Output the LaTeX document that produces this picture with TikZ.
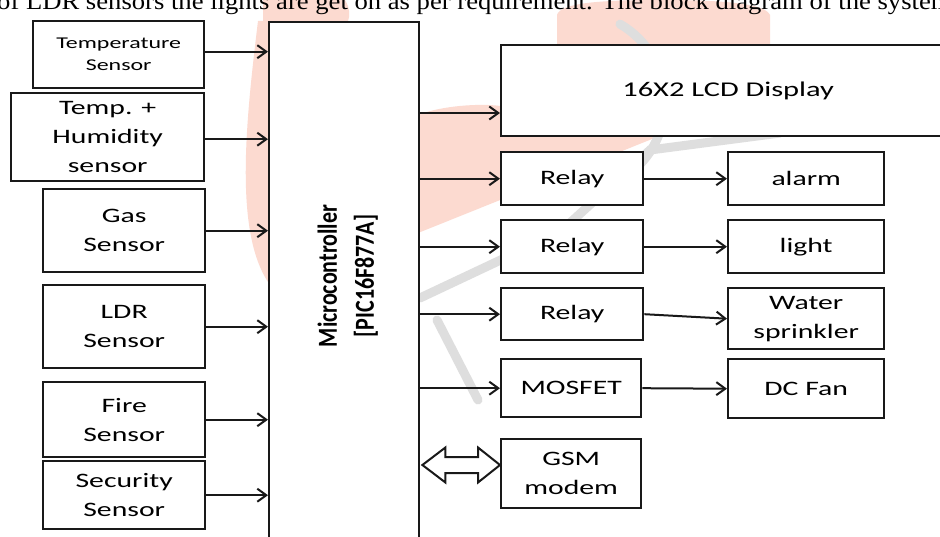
\documentclass[tikz,border=0pt]{standalone}
\usepackage{fontspec}
\setmainfont{Carlito}
\newfontfamily\lbl{Carlito}[FakeStretch=1.45]
\newfontfamily\serifx{Liberation Serif}
\usetikzlibrary{arrows.meta,calc}
\definecolor{ink}{RGB}{25,25,25}
\definecolor{wpink}{RGB}{252,218,208}
\definecolor{wgrey}{RGB}{222,222,222}
\begin{document}
\begin{tikzpicture}[x=1pt,y=-1pt,
  box/.style={draw=ink,line width=2.4pt,fill=white,inner sep=0pt,anchor=north west,align=center,
    font=\lbl\fontsize{20.5}{29}\selectfont},
  arr/.style={draw=ink,line width=2pt,-{Straight Barb[length=9pt,width=13pt,line width=2pt]}},
  wm/.style={wgrey,line width=9pt,line cap=round}]
\clip (0,0) rectangle (940,537);
\fill[white] (0,0) rectangle (940,537);
% watermark
\fill[wpink] (268,21) -- (258,21) .. controls (246,120) and (234,230) .. (268,282) -- cycle;
\fill[wpink] (263,0) -- (345,0) .. controls (350,8) and (350,16) .. (348,21) -- (263,21) -- cycle;
\fill[wpink] (418,115) .. controls (440,106) and (480,103) .. (500,106) -- (500,135) -- (662,135) -- (418,233) -- cycle;
\fill[wpink] (557,44) -- (557,15) .. controls (560,3) and (600,0) .. (660,0) .. controls (720,0) and (765,3) .. (770,15) -- (770,44) -- cycle;
\draw[wm] (420,298) -- (560,232) -- (650,150) -- (780,133);
\draw[wm] (437,320) -- (478,400);
\draw[wm] (620,180) arc[start angle=60,end angle=-60,radius=90];
% top paragraph line
\node[anchor=base west,inner sep=0pt] (para) at (-3,10)
  {\scalebox{1.11}[1]{\serifx\fontsize{24}{24}\selectfont of LDR sensors the lights are get on as per requirement. The block diagram of the system}};
% left sensors
\node[box,minimum width=171pt,minimum height=67pt,font=\lbl\fontsize{16.5}{22}\selectfont] (temp) at (32,20) {Temperature\\Sensor};
\node[box,minimum width=193pt,minimum height=88pt] (hum) at (10,92) {Temp. +\\Humidity\\sensor};
\node[box,minimum width=162pt,minimum height=83pt] (gas) at (42,188) {Gas\\Sensor};
\node[box,minimum width=162pt,minimum height=83pt] (ldr) at (42,284) {LDR\\Sensor};
\node[box,minimum width=162pt,minimum height=75pt] (fire) at (42,381) {Fire\\Sensor};
\node[box,minimum width=162pt,minimum height=68pt] (sec) at (42,460) {Security\\Sensor};
% microcontroller
\node[box,minimum width=150pt,minimum height=560pt] (mc) at (268,21) {};
\node[inner sep=0pt] (mctext) at (348,276) {\rotatebox{90}{\scalebox{1}[1.25]{\bfseries\fontsize{22}{29.6}\selectfont\begin{tabular}{@{}c@{}}Microcontroller\\{[PIC16F877A]}\end{tabular}}}};
% right side
\node[box,minimum width=454pt,minimum height=91pt,font=\lbl\fontsize{21}{29}\selectfont] (lcd) at (500,44) {16X2 LCD Display};
\node[box,minimum width=142pt,minimum height=53pt] (r1) at (500,151) {Relay};
\node[box,minimum width=142pt,minimum height=53pt] (r2) at (500,219) {Relay};
\node[box,minimum width=142pt,minimum height=52pt] (r3) at (500,287) {Relay};
\node[box,minimum width=140pt,minimum height=58pt] (mos) at (500,358) {MOSFET};
\node[box,minimum width=140pt,minimum height=69pt] (gsm) at (500,438) {GSM\\modem};
\node[box,minimum width=156pt,minimum height=53pt] (alarm) at (727,151) {alarm};
\node[box,minimum width=156pt,minimum height=53pt] (light) at (727,219) {light};
\node[box,minimum width=156pt,minimum height=61pt] (water) at (727,287) {Water\\sprinkler};
\node[box,minimum width=156pt,minimum height=59pt] (fan) at (727,358) {DC Fan};
% input arrows
\draw[arr] ([yshift=3pt]temp.east) -- ([yshift=3pt]temp.east -| mc.west);
\draw[arr] ([yshift=-2pt]hum.east) -- ([yshift=-2pt]hum.east -| mc.west);
\draw[arr] (gas.east) -- (gas.east -| mc.west);
\draw[arr] (ldr.east) -- (ldr.east -| mc.west);
\draw[arr] (fire.east) -- (fire.east -| mc.west);
\draw[arr] (sec.east) -- (sec.east -| mc.west);
% output arrows
\coordinate (lcdin) at ($(lcd.north west)+(0,69)$);
\draw[arr] (mc.east |- lcdin) -- (lcdin);
\draw[arr] (mc.east |- r1.west) -- (r1.west);
\draw[arr] (mc.east |- r2.west) -- (r2.west);
\draw[arr] (mc.east |- r3.west) -- (r3.west);
\draw[arr] (mc.east |- mos.west) -- (mos.west);
\draw[arr] (r1.east) -- (alarm.west);
\draw[arr] (r2.east) -- (light.west);
\draw[arr] (r3.east) -- (water.west);
\draw[arr] (mos.east) -- (fan.west);
% GSM double arrow
\coordinate (gl) at ($(gsm.north west)+(0,27)$);
\coordinate (ml) at (mc.east |- gl);
\filldraw[draw=ink,fill=white,line width=2pt,line join=miter]
  ($(ml)+(2,0)$) -- ++(23,-17.5) -- ++(0,9.5) -- ($(gl)+(-22,-8)$) -- ++(0,-9.5) -- (gl)
  -- ++(-22,17.5) -- ++(0,-9.5) -- ($(ml)+(25,8)$) -- ++(0,9.5) -- cycle;
\end{tikzpicture}
\end{document}
